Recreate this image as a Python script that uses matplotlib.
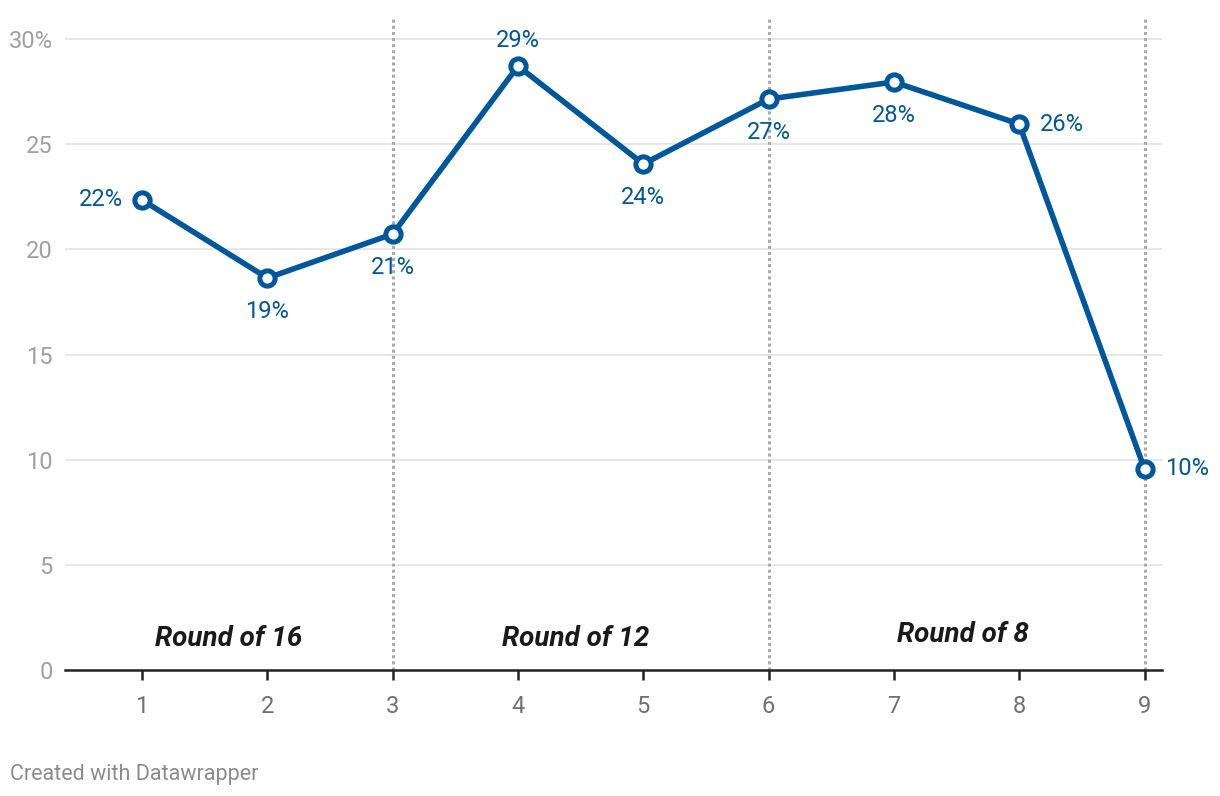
import matplotlib.pyplot as plt

plt.rcParams['font.family'] = ['Roboto', 'DejaVu Sans']

# Datos
games = [1, 2, 3, 4, 5, 6, 7, 8, 9]
share = [22.35, 18.64, 20.73, 28.72, 24.06, 27.15, 27.96, 25.96, 9.56]
labels = ["22%", "19%", "21%", "29%", "24%", "27%", "28%", "26%", "10%"]
# posicion de cada etiqueta: izquierda, abajo, arriba, derecha
label_pos = ["left", "below", "below", "above", "below", "below", "below", "right", "right"]
round_names = ["Round of 16", "Round of 12", "Round of 8"]
round_x = [1.69, 4.46, 7.55]
round_y = [1.5, 1.5, 1.7]
dividers = [3, 6, 9]
y_ticks = [0, 5, 10, 15, 20, 25, 30]
y_tick_labels = ["0", "5", "10", "15", "20", "25", "30%"]

blue = "#00579b"

fig = plt.figure(figsize=(12.2, 7.96), dpi=100)
ax = fig.add_axes([0.0533, 0.1583, 0.8992, 0.8190])

ax.set_xlim(0.385, 9.14)
ax.set_ylim(0, 31)

for y in y_ticks[1:]:
    ax.axhline(y, color="#e3e3e3", lw=1.2, zorder=0)

for x in dividers:
    ax.axvline(x, color="#aaaaaa", lw=2.2, ls=(0, (1.0, 1.0)), zorder=1)

ax.plot(games, share, color=blue, lw=4, marker="o", ms=11,
        mfc="white", mec=blue, mew=3.6, zorder=3)

fs = 17
for x, y, t, p in zip(games, share, labels, label_pos):
    if p == "left":
        ax.annotate(t, (x, y), xytext=(-14, 0), textcoords="offset points",
                    ha="right", va="center", color=blue, fontsize=fs)
    elif p == "right":
        ax.annotate(t, (x, y), xytext=(15, 0), textcoords="offset points",
                    ha="left", va="center", color=blue, fontsize=fs)
    elif p == "above":
        ax.annotate(t, (x, y), xytext=(0, 10), textcoords="offset points",
                    ha="center", va="bottom", color=blue, fontsize=fs)
    else:
        ax.annotate(t, (x, y), xytext=(0, -16), textcoords="offset points",
                    ha="center", va="top", color=blue, fontsize=fs)

for name, x, y in zip(round_names, round_x, round_y):
    ax.text(x, y, name, ha="center", va="center", fontsize=20,
            fontweight="bold", fontstyle="italic", color="#1a1a1a")

ax.set_yticks(y_ticks)
ax.set_yticklabels(y_tick_labels)
ax.set_xticks(games)
ax.tick_params(axis="y", length=0, pad=9, labelsize=17, labelcolor="#a0a0a0")
ax.tick_params(axis="x", length=7, width=1.8, color="#222222", pad=11,
               labelsize=17, labelcolor="#707070")

for s in ["top", "right", "left"]:
    ax.spines[s].set_visible(False)
ax.spines["bottom"].set_color("#222222")
ax.spines["bottom"].set_linewidth(1.8)

fig.text(0.008, 0.020, "Created with Datawrapper", fontsize=15.5, color="#8c8c8c")

fig.savefig("out.png", dpi=100)
